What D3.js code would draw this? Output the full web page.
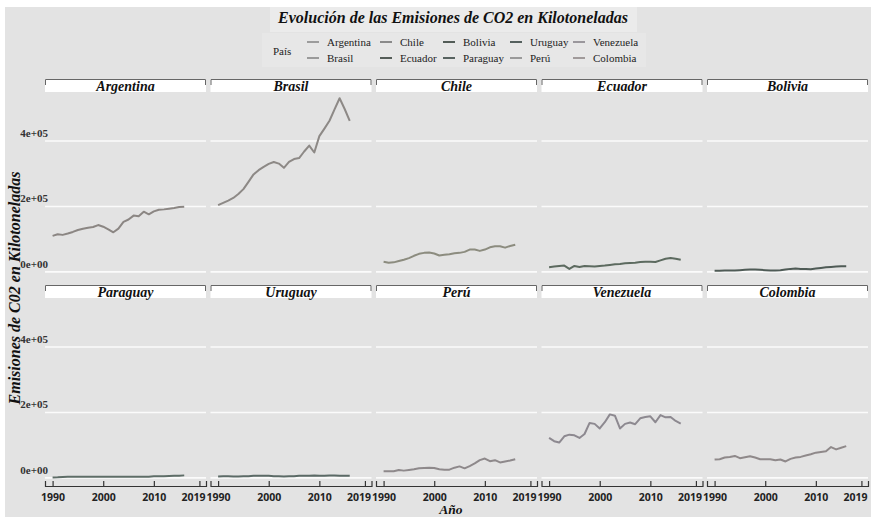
<!DOCTYPE html>
<html lang="es">
<head>
<meta charset="UTF-8">
<title>Emisiones de CO2</title>
<script src="https://d3js.org/d3.v7.min.js"></script>
<style>
  body {margin: 0; background: #fff;}
  svg {display: block;}
  text {font-family: "Liberation Serif", "DejaVu Serif", serif;}
  .tick text {font-family: "Open Sans", "Liberation Sans", sans-serif; font-weight: 700; font-size: 10.5px; fill: #222;}
</style>
</head>
<body>
<script>
    // emisiones en kilotoneladas, 1990-2016
    const years = [1990, 1991, 1992, 1993, 1994, 1995, 1996, 1997, 1998, 1999,
                   2000, 2001, 2002, 2003, 2004, 2005, 2006, 2007, 2008, 2009,
                   2010, 2011, 2012, 2013, 2014, 2015, 2016];

    const argentina = [110000, 115000, 113000, 117000, 122000, 128000, 132000, 135000, 137000, 143000,
                       138000, 130000, 121000, 132000, 153000, 160000, 172000, 170000, 184000, 176000,
                       185000, 190000, 191000, 193000, 195000, 198000, 199000];
    const brasil    = [204000, 211000, 218000, 226000, 238000, 253000, 275000, 298000, 311000, 321000,
                       330000, 336000, 331000, 318000, 336000, 345000, 348000, 368000, 386000, 365000,
                       415000, 438000, 462000, 497000, 531000, 498000, 462000];
    const chile     = [31000, 28000, 29000, 33000, 37000, 42000, 49000, 55000, 58000, 59000,
                       56000, 50000, 52000, 54000, 57000, 58000, 61000, 68000, 68000, 64000,
                       68000, 75000, 78000, 78000, 74000, 79000, 83000];
    const ecuador   = [14000, 16000, 18000, 19000, 9000, 18000, 15000, 18000, 17000, 16000,
                       18000, 19000, 21000, 23000, 24000, 26000, 27000, 28000, 30000, 31000,
                       31000, 30000, 35000, 40000, 42000, 40000, 37000];
    const bolivia   = [3000, 3000, 4000, 4000, 4000, 5000, 6000, 7000, 7000, 6000,
                       5000, 4000, 4000, 5000, 7000, 9000, 10000, 9000, 9000, 8000,
                       10000, 12000, 14000, 15000, 16000, 17000, 17000];
    const paraguay  = [1000, 1500, 2500, 3000, 3000, 3000, 3000, 3000, 3000, 3000,
                       3000, 3000, 3000, 3000, 3000, 3000, 3000, 3000, 3000, 3500,
                       5000, 5000, 5000, 5500, 6000, 6500, 7500];
    const uruguay   = [4000, 5000, 5000, 4000, 4000, 5000, 5000, 6000, 6000, 6000,
                       6000, 5000, 5000, 4000, 5000, 5000, 6000, 6000, 6000, 7000,
                       6000, 6000, 7000, 7000, 6000, 6000, 6000];
    const peru      = [20000, 20000, 20000, 24000, 22000, 24000, 26000, 29000, 30000, 31000,
                       30000, 26000, 25000, 25000, 31000, 35000, 29000, 36000, 44000, 54000,
                       59000, 51000, 54000, 47000, 50000, 53000, 57000];
    const venezuela = [122000, 112000, 108000, 127000, 132000, 130000, 122000, 134000, 168000, 165000,
                       151000, 170000, 194000, 190000, 151000, 165000, 169000, 164000, 182000, 186000,
                       188000, 170000, 192000, 185000, 186000, 174000, 166000];
    const colombia  = [56000, 57000, 62000, 64000, 67000, 60000, 63000, 66000, 62000, 57000,
                       57000, 57000, 54000, 56000, 50000, 58000, 62000, 64000, 68000, 72000,
                       77000, 79000, 81000, 94000, 87000, 92000, 97000];

    const countries = ["Argentina", "Brasil", "Chile", "Ecuador", "Bolivia",
                       "Paraguay", "Uruguay", "Perú", "Venezuela", "Colombia"];
    const seriesValues = [argentina, brasil, chile, ecuador, bolivia,
                          paraguay, uruguay, peru, venezuela, colombia];
    const lineColors = ["#8b8683", "#8d8986", "#8c8c7f", "#5c6a5f", "#4f5b56",
                        "#5e6d67", "#5b6a66", "#8e898b", "#8d8990", "#8f898a"];
    const legendColors = ["#9c9c9c", "#9a9a9a", "#8a8a8a", "#555d58", "#525c57",
                          "#586360", "#55605e", "#9a9a9a", "#9a979c", "#a09a9a"];
    const yTicks = [0, 200000, 400000];
    const yTickLabels = ["0e+00", "2e+05", "4e+05"];
    const xTicks = [1990, 2000, 2010, 2019];

    const width = 871, height = 517;
    const panelLeft = 45, panelW = 161, gapX = 4.5, panelH = 188;
    const rowTops = [92, 298];
    const serif = '"Liberation Serif", "DejaVu Serif", serif';

    const svg = d3.select("body").append("svg")
        .attr("width", width).attr("height", height)
        .style("font-family", serif);

    svg.append("rect").attr("x", 5).attr("y", 7)
        .attr("width", width - 5).attr("height", height - 7)
        .style("fill", "#e3e3e3");

    const x = d3.scaleLinear().domain([1988.5, 2020.3]).range([0, panelW]);
    const y = d3.scaleLinear().domain([-25000, 550000]).range([panelH, 0]);

    const line = d3.line()
        .x(d => x(d[0]))
        .y(d => y(d[1]));

    // title
    svg.append("rect").attr("x", 270).attr("y", 7).attr("width", 367).attr("height", 25)
        .style("fill", "#ebebeb");
    svg.append("text")
        .attr("x", 453).attr("y", 23)
        .attr("text-anchor", "middle")
        .style("font-family", serif)
        .style("font-size", "16px").style("font-weight", "bold").style("font-style", "italic")
        .style("fill", "#111")
        .text("Evolución de las Emisiones de CO2 en Kilotoneladas");

    // legend (two rows, filled by column)
    const legendColX = [307, 380, 443, 510, 573];
    const legendRowY = [42, 58];
    svg.append("rect").attr("x", 262).attr("y", 33).attr("width", 384).attr("height", 34)
        .style("fill", "#e7e7e7");
    svg.append("text").attr("x", 273).attr("y", 55)
        .style("font-family", serif)
        .style("font-size", "11px").style("fill", "#222")
        .text("País");

    const legend = svg.selectAll("g.legend")
        .data(countries)
        .enter().append("g")
        .attr("class", "legend")
        .attr("transform", (d, i) => `translate(${legendColX[Math.floor(i / 2)]},${legendRowY[i % 2]})`);
    legend.append("line")
        .attr("x1", 0).attr("x2", 12)
        .style("stroke", (d, i) => legendColors[i])
        .style("stroke-width", 2);
    legend.append("text")
        .attr("x", 20).attr("y", 4)
        .style("font-family", serif)
        .style("font-size", "11px").style("fill", "#222")
        .text(d => d);

    // facets
    const panels = svg.selectAll("g.panel")
        .data(countries)
        .enter().append("g")
        .attr("class", "panel")
        .attr("transform", (d, i) => `translate(${panelLeft + (i % 5) * (panelW + gapX)},${rowTops[Math.floor(i / 5)]})`);

    panels.selectAll("line.grid")
        .data(yTicks)
        .enter().append("line")
        .attr("class", "grid")
        .attr("x1", 0).attr("x2", panelW)
        .attr("y1", d => y(d)).attr("y2", d => y(d))
        .style("stroke", "#fbfbfb")
        .style("stroke-width", 1.6);

    panels.append("path")
        .datum((d, i) => years.map((yr, j) => [yr, seriesValues[i][j]]))
        .attr("d", line)
        .style("fill", "none")
        .style("stroke", (d, i) => lineColors[i])
        .style("stroke-width", 2)
        .style("stroke-linejoin", "round");

    // strips
    panels.append("rect")
        .attr("x", 0).attr("y", -13)
        .attr("width", panelW).attr("height", 13)
        .style("fill", "#fff");
    panels.append("path")
        .attr("d", `M0.5,-7V-12.5H${panelW - 0.5}V-7`)
        .style("fill", "none")
        .style("stroke", "#666")
        .style("stroke-width", 1);
    panels.append("text")
        .attr("x", panelW / 2).attr("y", -1.5)
        .attr("text-anchor", "middle")
        .style("font-family", serif)
        .style("font-size", "14px").style("font-weight", "bold").style("font-style", "italic")
        .style("fill", "#111")
        .text(d => d);

    // y labels on the first column
    rowTops.forEach(top => {
        svg.append("g").selectAll("text")
            .data(yTicks)
            .enter().append("text")
            .attr("x", 48)
            .attr("y", d => top + y(d) - 4)
            .attr("text-anchor", "end")
            .style("font-family", serif)
            .style("font-size", "11px").style("font-weight", "bold")
            .style("fill", "#333")
            .text((d, i) => yTickLabels[i]);
    });

    // x axes on the bottom row
    panels.filter((d, i) => i >= 5)
        .append("g")
        .attr("transform", `translate(0,${panelH})`)
        .each(function() {
            const ax = d3.select(this).call(d3.axisBottom(x)
                .tickValues(xTicks)
                .tickFormat(d3.format("d"))
                .tickSizeInner(-5)
                .tickSizeOuter(-5)
                .tickPadding(8));
            ax.select(".domain").style("stroke", "#333").style("stroke-width", 1.2);
            ax.selectAll(".tick line").style("stroke", "#333").style("stroke-width", 1.2);
            // last label sits flush with the panel edge
            ax.selectAll(".tick text")
                .filter(d => d === 2019)
                .attr("text-anchor", "end")
                .attr("x", panelW - 1 - x(2019));
        });

    // axis titles
    svg.append("text")
        .attr("x", 451).attr("y", 514)
        .attr("text-anchor", "middle")
        .style("font-family", serif)
        .style("font-size", "13.5px").style("font-weight", "bold").style("font-style", "italic")
        .style("fill", "#111")
        .text("Año");
    svg.append("text")
        .attr("transform", "translate(20,288) rotate(-90)")
        .attr("text-anchor", "middle")
        .style("font-family", serif)
        .style("font-size", "16px").style("font-weight", "bold").style("font-style", "italic")
        .style("fill", "#111")
        .text("Emisiones de C02 en Kilotoneladas");
</script>
</body>
</html>
